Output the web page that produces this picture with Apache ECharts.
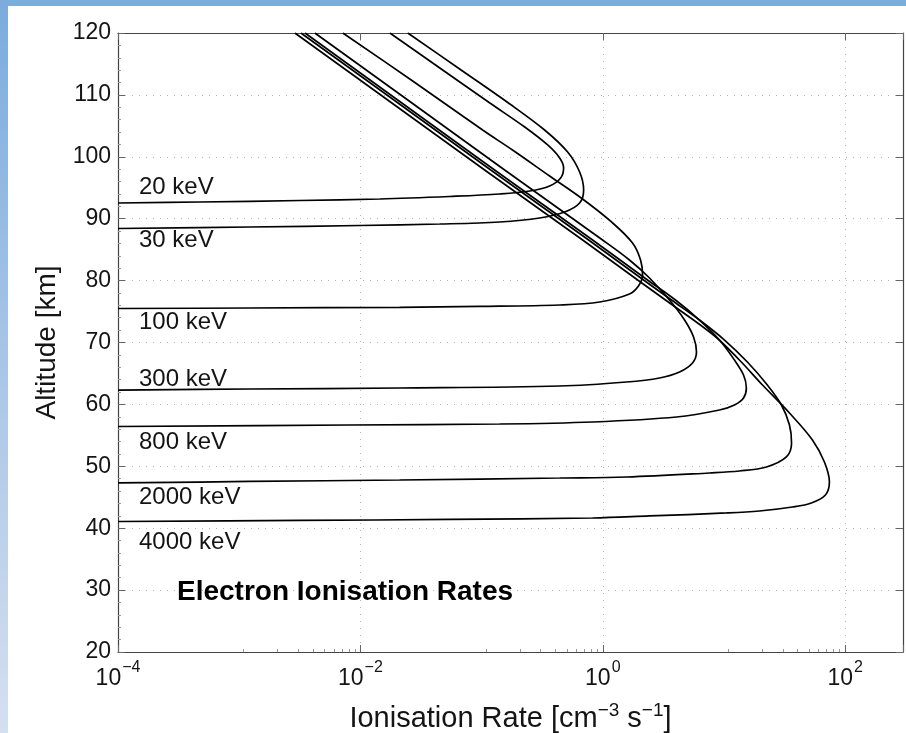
<!DOCTYPE html>
<html>
<head>
<meta charset="utf-8">
<script src="https://cdn.jsdelivr.net/npm/echarts@6/dist/echarts.min.js"></script>
<style>
  html, body { margin: 0; padding: 0; background: #fff; }
  #chart { width: 906px; height: 733px; }
</style>
</head>
<body>
<div id="chart"></div>
<script>
// Electron ionisation rate profiles: rate (cm^-3 s^-1) versus altitude (km)
const energyLabels = ['20 keV', '30 keV', '100 keV', '300 keV', '800 keV', '2000 keV', '4000 keV'];

const rate20 = [0.0175, 0.0452, 0.117, 0.227, 0.351, 0.441, 0.475, 0.449, 0.364, 0.250, 0.141, 0.0546, 0.0145, 0.00316, 0.00047, 0.0001];
const alt20  = [120, 114.35, 108.69, 104.81, 101.91, 99.81, 98.19, 96.57, 95.28, 94.47, 93.99, 93.59, 93.18, 92.94, 92.70, 92.54];

const rate30 = [0.0246, 0.0659, 0.171, 0.331, 0.513, 0.644, 0.695, 0.644, 0.484, 0.301, 0.141, 0.0452, 0.0099, 0.00122, 0.0001];
const alt30  = [120, 114.18, 108.53, 104.33, 100.77, 97.54, 94.64, 92.54, 91.08, 90.11, 89.47, 89.14, 88.90, 88.66, 88.42];

const rate100 = [0.00716, 0.0270, 0.102, 0.180, 0.364, 0.681, 1.18, 1.76, 2.05, 2.13, 1.97, 1.66, 0.942, 0.441, 0.0964, 0.0211, 0.00122, 0.0001];
const alt100  = [120, 112.25, 104.33, 101.10, 96.90, 93.18, 89.47, 86.07, 83.33, 80.90, 79.13, 77.84, 76.54, 76.06, 75.82, 75.69, 75.57, 75.49];

const rate300 = [0.00421, 0.0246, 0.155, 0.996, 1.66, 2.43, 3.55, 4.73, 5.61, 5.93, 5.50, 4.30, 2.94, 1.57, 0.441, 0.0211, 0.00122, 0.0001];
const alt300  = [120, 109.18, 97.87, 86.56, 83.33, 80.42, 76.86, 73.63, 70.89, 68.46, 66.69, 65.24, 64.27, 63.62, 62.97, 62.65, 62.49, 62.32];

const rate800 = [0.00349, 0.0203, 0.128, 0.824, 2.34, 3.98, 6.28, 9.18, 12.2, 14.5, 15.3, 14.5, 12.2, 9.18, 4.06, 0.824, 0.141, 0.00818, 0.0001];
const alt800  = [120, 109.18, 97.87, 86.56, 80.10, 76.86, 73.63, 70.40, 67.17, 64.75, 62.65, 61.03, 59.90, 59.09, 57.96, 57.16, 56.83, 56.67, 56.43];

const rate2000 = [0.00323, 0.0189, 0.119, 0.764, 2.17, 3.69, 6.28, 10.1, 15.6, 22.8, 29.8, 34.7, 36.1, 32.7, 22.4, 13.4, 7.59, 1.57, 0.441, 0.0211, 0.00122, 0.0001];
const alt2000  = [120, 109.18, 97.87, 86.56, 80.10, 76.86, 73.63, 70.40, 66.85, 63.13, 59.90, 56.67, 53.77, 51.51, 49.89, 49.24, 48.92, 48.27, 48.11, 47.79, 47.55, 47.31];

const rate4000 = [0.00288, 0.0168, 0.106, 0.682, 1.94, 3.29, 8.19, 13.4, 20.8, 34.7, 53.7, 67.4, 74.1, 68.7, 52.6, 36.7, 19.6, 10.5, 2.43, 0.824, 0.0546, 0.00316, 0.0001];
const alt4000  = [120, 109.18, 97.87, 86.56, 80.10, 76.86, 71.21, 67.17, 63.13, 58.61, 54.25, 50.69, 47.47, 45.37, 44.08, 43.43, 42.78, 42.46, 41.98, 41.65, 41.41, 41.25, 41.08];

const profiles = [
  [rate20, alt20], [rate30, alt30], [rate100, alt100], [rate300, alt300],
  [rate800, alt800], [rate2000, alt2000], [rate4000, alt4000]
];

const chartTitle = 'Electron Ionisation Rates';
const xName = 'Ionisation Rate [cm{sup|−3} s{sup|−1}]';
const yName = 'Altitude [km]';

const FONT = 'Liberation Sans, Arial, Helvetica, sans-serif';
const INK = '#141414';
const AXIS = '#444';

// vertical centre (px) of each energy annotation, left-aligned inside the plot
const labelY = [187, 240, 322, 379, 442, 497, 542];

const chart = echarts.init(document.getElementById('chart'), null, { renderer: 'canvas' });

// "10^n" labels on every second decade
function powerLabel(v) {
  const e = Math.log10(v);
  const r = Math.round(e);
  if (Math.abs(e - r) > 1e-6 || r % 2 !== 0) return '';
  return '{b|10}{s|' + (r < 0 ? '−' : '') + Math.abs(r) + '}';
}

const dotted = { type: [1, 6], color: '#b4b4b4', width: 1 };

const option = {
  animation: false,
  backgroundColor: '#fff',
  grid: { left: 118, right: 3, top: 33, bottom: 81, containLabel: false, outerBoundsMode: 'none' },
  xAxis: [
    {
      type: 'log', logBase: 10, min: 1e-4, max: 300, interval: 2,
      position: 'bottom',
      axisLine: { show: true, lineStyle: { color: AXIS, width: 1.2 } },
      axisTick: { show: true, inside: true, length: 7, lineStyle: { color: '#666' } },
      minorTick: { show: true, splitNumber: 10, length: 3, lineStyle: { color: '#999' } },
      splitLine: { show: true, lineStyle: dotted },
      axisLabel: {
        margin: 8, color: INK, fontFamily: FONT,
        formatter: powerLabel,
        rich: {
          b: { fontSize: 23, fontFamily: FONT, color: INK, lineHeight: 30, verticalAlign: 'bottom' },
          s: { fontSize: 16, fontFamily: FONT, color: INK, lineHeight: 30, verticalAlign: 'top', padding: [0, 0, 0, 1] }
        }
      },
      name: xName, nameLocation: 'middle', nameGap: 49,
      nameTextStyle: {
        fontSize: 29, fontFamily: FONT, color: INK,
        rich: {
          sup: { fontSize: 19, fontFamily: FONT, color: INK, verticalAlign: 'top', lineHeight: 36 }
        }
      }
    },
    {
      type: 'log', logBase: 10, min: 1e-4, max: 300, interval: 2,
      position: 'top',
      axisLine: { show: true, lineStyle: { color: AXIS, width: 1.2 } },
      axisTick: { show: true, inside: true, length: 7, lineStyle: { color: '#666' } },
      axisLabel: { show: false },
      splitLine: { show: false }
    }
  ],
  yAxis: [
    {
      type: 'value', min: 20, max: 120, interval: 10,
      position: 'left',
      axisLine: { show: true, lineStyle: { color: AXIS, width: 1.2 } },
      axisTick: { show: true, inside: true, length: 7, lineStyle: { color: '#666' } },
      minorTick: { show: true, splitNumber: 5, length: 3, lineStyle: { color: '#999' } },
      splitLine: { show: true, lineStyle: dotted },
      axisLabel: { margin: 7, fontSize: 23, fontFamily: FONT, color: INK },
      name: yName, nameLocation: 'middle', nameGap: 55,
      nameTextStyle: { fontSize: 28, fontFamily: FONT, color: INK }
    },
    {
      type: 'value', min: 20, max: 120, interval: 10,
      position: 'right',
      axisLine: { show: true, lineStyle: { color: AXIS, width: 1.2 } },
      axisTick: { show: true, inside: true, length: 7, lineStyle: { color: '#666' } },
      axisLabel: { show: false },
      splitLine: { show: false }
    }
  ],
  series: profiles.map((p, i) => ({
    name: energyLabels[i],
    type: 'line',
    xAxisIndex: 0, yAxisIndex: 0,
    data: p[0].map((r, k) => [r, p[1][k]]),
    showSymbol: false,
    smooth: 0.35,
    clip: true,
    lineStyle: { color: '#000', width: 1.7 },
    z: 3
  })),
  graphic: [
    { type: 'rect', shape: { x: 0, y: 0, width: 906, height: 6 }, style: { fill: '#7bacdd' }, z: 100, silent: true },
    {
      type: 'rect', shape: { x: 0, y: 0, width: 8, height: 733 }, z: 100, silent: true,
      style: { fill: { type: 'linear', x: 0, y: 0, x2: 0, y2: 1,
        colorStops: [{ offset: 0, color: '#7bacdd' }, { offset: 1, color: '#d6dff0' }] } }
    },
    ...energyLabels.map((t, i) => ({
      type: 'text', x: 139, y: labelY[i], z: 50, silent: true,
      style: { text: t, font: '24px ' + FONT, fill: INK, verticalAlign: 'middle', align: 'left' }
    })),
    {
      type: 'text', x: 177, y: 592, z: 50, silent: true,
      style: { text: chartTitle, font: 'bold 28px ' + FONT, fill: '#000', verticalAlign: 'middle', align: 'left' }
    }
  ]
};

chart.setOption(option);
</script>
</body>
</html>
